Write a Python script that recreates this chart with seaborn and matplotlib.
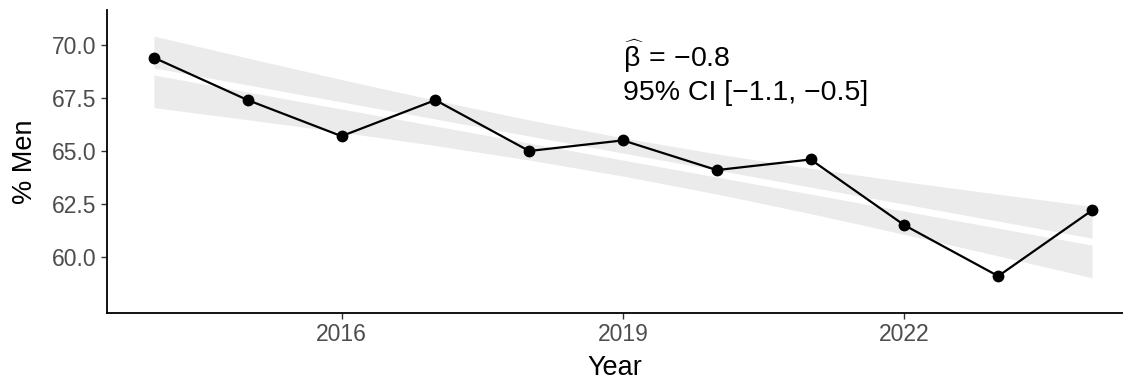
import numpy as np
import pandas as pd
import matplotlib
matplotlib.use("Agg")
import matplotlib.pyplot as plt
import seaborn as sns

# share of men per year
years = [2014, 2015, 2016, 2017, 2018, 2019, 2020, 2021, 2022, 2023, 2024]
pct_men = [69.4, 67.4, 65.7, 67.4, 65.0, 65.5, 64.1, 64.6, 61.5, 59.1, 62.2]
x_ticks = [2016, 2019, 2022]
y_ticks = [60.0, 62.5, 65.0, 67.5, 70.0]
beta_label = r"$\widehat{\beta}\,=\,$" + "−0.8"
ci_label = "95% CI [−1.1, −0.5]"

df = pd.DataFrame({"Year": years, "Men": pct_men})

sns.set_theme(style="ticks")
plt.rcParams["font.family"] = ["Liberation Sans", "DejaVu Sans"]
plt.rcParams["mathtext.fontset"] = "custom"
plt.rcParams["mathtext.rm"] = "Liberation Sans"
plt.rcParams["mathtext.it"] = "Liberation Sans"
plt.rcParams["text.color"] = "black"
plt.rcParams["axes.labelcolor"] = "black"

fig = plt.figure(figsize=(11.23, 3.81), dpi=100)
ax = fig.add_axes([0.0953, 0.1785, 0.9047, 0.7953])

# linear fit with 95% confidence band (t, df=9)
x = df["Year"].to_numpy(dtype=float)
y = df["Men"].to_numpy()
slope, intercept = np.polyfit(x, y, 1)
fit = intercept + slope * x
resid = y - fit
s = np.sqrt(np.sum(resid ** 2) / (len(x) - 2))
se = s * np.sqrt(1 / len(x) + (x - x.mean()) ** 2 / np.sum((x - x.mean()) ** 2))
t_crit = 2.262
ax.fill_between(x, fit - t_crit * se, fit + t_crit * se, color="#EBEBEB", lw=0, zorder=1)
ax.plot(x, fit, color="white", lw=5, zorder=2)

sns.lineplot(data=df, x="Year", y="Men", color="black", lw=1.6, marker="o",
             markersize=8.5, markeredgewidth=0, ax=ax, zorder=3)

ax.text(2019, 69.45, beta_label, fontsize=20.5, va="center", ha="left")
ax.text(2019, 67.75, ci_label, fontsize=20.5, va="center", ha="left")

ax.set_xlim(2013.5, 2024.33)
ax.set_ylim(57.36, 71.65)
ax.set_xticks(x_ticks)
ax.set_xticklabels([str(t) for t in x_ticks])
ax.set_yticks(y_ticks)
ax.set_yticklabels([f"{t:.1f}" for t in y_ticks])
ax.tick_params(labelsize=16.5, labelcolor="#4D4D4D", color="#333333", length=4, width=1)
ax.set_xlabel("Year", fontsize=19.5, labelpad=6)
ax.set_ylabel("% Men", fontsize=19.5, labelpad=10)
sns.despine(ax=ax)
for sp in ["left", "bottom"]:
    ax.spines[sp].set_linewidth(1.3)
    ax.spines[sp].set_color("black")

fig.savefig("out.png", dpi=100)
